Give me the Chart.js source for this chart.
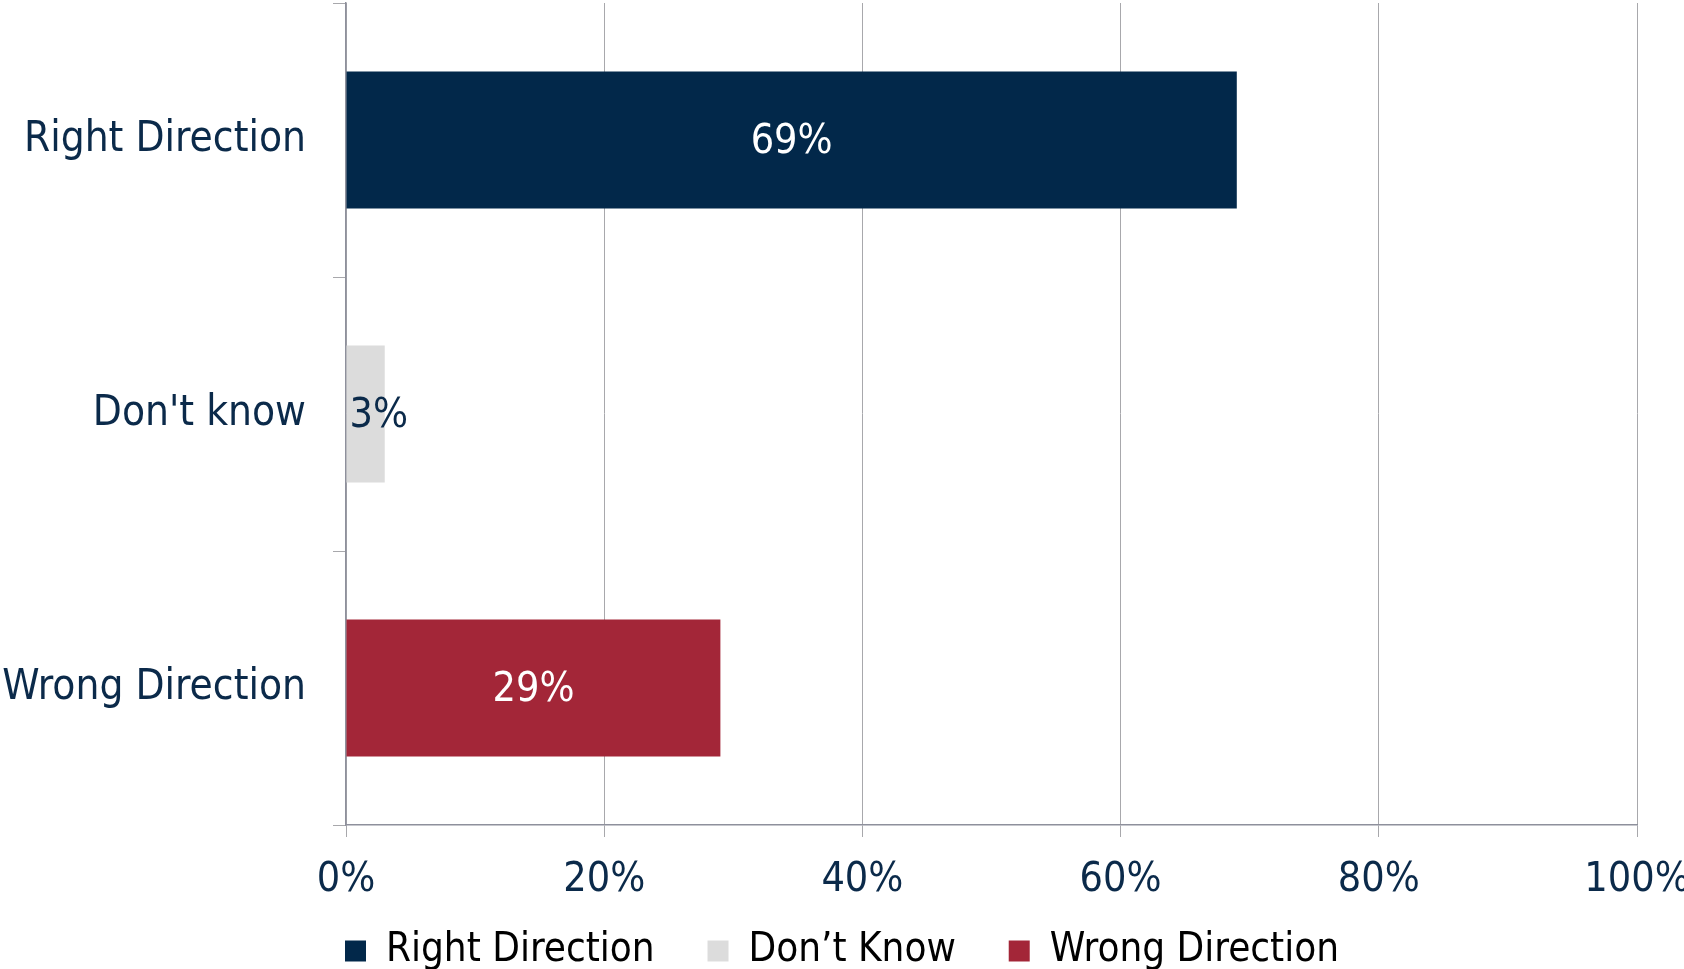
<!DOCTYPE html>
<html>
<head>
<meta charset="utf-8">
<script src="https://cdn.jsdelivr.net/npm/chart.js@4.4.1/dist/chart.umd.min.js"></script>
<style>
  html, body { margin: 0; padding: 0; background: #fff; }
  #wrap { width: 1684px; height: 969px; }
</style>
</head>
<body>
<div id="wrap"><canvas id="chart"></canvas></div>
<script>
const categories = ["Right Direction", "Don't know", "Wrong Direction"];
const values = [69, 3, 29];
const legendLabels = ["Right Direction", "Don\u2019t Know", "Wrong Direction"];
const barColors = ["#02284A", "#DCDCDC", "#A32638"];
const valueLabelColors = ["#FFFFFF", "#0B2A4A", "#FFFFFF"];
const xTickLabels = ["0%", "20%", "40%", "60%", "80%", "100%"];

const textColor = "#0B2A4A";
const gridColor = "#A8A8AC";
const axisColor = "#8E909C";
const fontFamily = "'DejaVu Sans Condensed', 'DejaVu Sans', sans-serif";

// value labels centred on each bar, nudged off the axis when the bar is too short
const barLabels = {
  id: "barLabels",
  afterDatasetsDraw(chart) {
    const ctx = chart.ctx;
    const meta = chart.getDatasetMeta(0);
    ctx.save();
    ctx.font = `41px ${fontFamily}`;
    ctx.textAlign = "center";
    ctx.textBaseline = "middle";
    meta.data.forEach((bar, i) => {
      const text = values[i] + "%";
      const w = ctx.measureText(text).width;
      const x = Math.max((bar.x + bar.base) / 2, bar.base + 3 + w / 2);
      ctx.fillStyle = valueLabelColors[i];
      ctx.fillText(text, x, bar.y + 2);
    });
    ctx.restore();
  }
};

new Chart(document.getElementById("chart"), {
  type: "bar",
  data: {
    labels: categories,
    datasets: [{
      data: values,
      backgroundColor: barColors,
      barPercentage: 0.5,
      categoryPercentage: 1
    }]
  },
  options: {
    indexAxis: "y",
    responsive: true,
    maintainAspectRatio: false,
    animation: false,
    layout: { padding: { top: 3, right: 0, left: 0, bottom: -12 } },
    plugins: {
      tooltip: { enabled: false },
      legend: {
        position: "bottom",
        labels: {
          color: textColor,
          font: { family: fontFamily, size: 40 },
          boxWidth: 21,
          boxHeight: 21,
          padding: 30,
          // extra spaces widen the gap between legend entries
          generateLabels: () => legendLabels.map((t, i) => ({
            text: i < legendLabels.length - 1 ? t + "  " : t,
            fillStyle: barColors[i], strokeStyle: barColors[i], lineWidth: 0, index: i
          }))
        }
      }
    },
    scales: {
      x: {
        min: 0, max: 100,
        ticks: {
          stepSize: 20,
          color: textColor,
          font: { family: fontFamily, size: 41 },
          padding: 19,
          maxRotation: 0,
          callback: (v, i) => xTickLabels[i]
        },
        grid: { color: gridColor, lineWidth: 1, tickLength: 12 },
        border: { color: axisColor, width: 1.5 },
        afterFit: (scale) => {
          scale.height = 76;
          scale.paddingLeft = 0;
          scale.paddingRight = 47;
        }
      },
      y: {
        ticks: {
          color: textColor,
          font: { family: fontFamily, size: 42 },
          padding: 27
        },
        grid: { color: gridColor, drawOnChartArea: false, offset: true, tickLength: 13 },
        border: { color: axisColor, width: 1.5 },
        afterFit: (scale) => {
          scale.width = 346;
          scale.paddingTop = 0;
          scale.paddingBottom = 0;
        }
      }
    }
  },
  plugins: [barLabels]
});
</script>
</body>
</html>
